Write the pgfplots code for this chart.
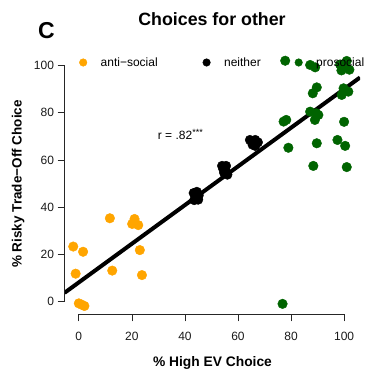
\documentclass[border=0pt]{standalone}
\usepackage{fontspec}
\setmainfont{Liberation Sans}
\usepackage{pgfplots}
\pgfplotsset{compat=1.18}
\definecolor{rorange}{HTML}{FFA500}
\definecolor{rgreen}{HTML}{006400}
\begin{document}
\begin{tikzpicture}
\path[use as bounding box] (0,0) rectangle (375bp,375bp);
\begin{axis}[
  at={(64.5bp,60.7bp)}, anchor=south west,
  scale only axis, width=295.5bp, height=260.4bp,
  xmin=-5.4, xmax=106, ymin=-5.43, ymax=105,
  axis x line*=bottom, axis y line*=left,
  axis line style={draw=none},
  clip mode=individual,
  tick align=outside, major tick length=7bp,
  tick style={black!85, line width=0.75bp},
  xtick={0,20,...,100}, ytick={0,20,...,100},
  /pgf/number format/assume math mode=true,
  ticklabel style={font=\fontsize{12bp}{14bp}\selectfont, text=black!90},
  xticklabel style={yshift=-7bp},
  yticklabel style={xshift=0bp},
  legend columns=3,
  legend style={draw=none, fill=none, inner sep=0pt, outer sep=0pt,
    nodes={inner sep=0pt, text depth=0pt},
    cells={anchor=west},
    /tikz/every odd column/.append style={column sep=13.5bp},
    /tikz/every even column/.append style={column sep=0bp},
    at={(0.0497,0.967)}, anchor=west,
    font=\fontsize{12bp}{14bp}\selectfont},
]
% regression line
\addplot[black, line width=4bp, forget plot] coordinates {(-5.4,3.67) (106,95.0)};
% anti-social
\addplot[only marks, mark=*, mark size=4.8bp, color=rorange, forget plot] coordinates {
(11.7,35.3) (21,35) (20.1,32.9) (22.4,32.4) (-2.1,23.3) (1.6,21.1) (23,21.8)
(-1.2,11.8) (12.6,13.1) (23.8,11.2) (0,-0.8) (1,-1.3) (2.1,-1.9)};
% neither
\addplot[only marks, mark=*, mark size=4.8bp, color=black, forget plot] coordinates {
(43.3,46) (44.5,46.5) (45.2,45) (44,44.5) (43.5,43) (45,43.2)
(54,57.5) (55.5,57.5) (54.5,56) (55.5,55) (56,53.8) (54.8,54.5)
(64.5,68.5) (65.5,67.5) (66.5,68.5) (67.5,67.5) (66.5,66) (65.5,66.5)};
% prosocial
\addplot[only marks, mark=*, mark size=4.8bp, color=rgreen, forget plot] coordinates {
(77.8,102.1) (87.2,100.3) (89.1,99.3) (98.5,100.5) (101,102) (102,98.3) (99,98) (100,100.5)
(89.7,90.8) (88.2,88.3) (99.8,90.4) (101.6,89) (99.1,87.6)
(78.2,77) (77.2,76.3) (87.2,80.5) (89.5,79.8) (90.3,79.1) (89,77) (100,76.2)
(79,65.2) (89.7,67.1) (97.5,68.5) (100.4,66) (88.4,57.5) (101,57) (76.8,-1)};
\addlegendimage{legend image code/.code={\fill[rorange] (0bp,0bp) circle (3.8bp);}}
\addlegendentry{\makebox[101.9bp][l]{anti−social}}
\addlegendimage{legend image code/.code={\fill[black] (0bp,0bp) circle (3.8bp);}}
\addlegendentry{\makebox[70.6bp][l]{neither}}
\addlegendimage{legend image code/.code={\fill[rgreen] (0bp,0bp) circle (3.8bp);}}
\addlegendentry{prosocial}
% axis lines (R style, tick to tick)
\draw[black!85, line width=0.75bp] (axis cs:0,-5.43) -- (axis cs:100,-5.43);
\draw[black!85, line width=0.75bp] (axis cs:-5.4,0) -- (axis cs:-5.4,100);
\end{axis}
\node[anchor=base west, inner sep=0pt, font=\fontsize{12bp}{14bp}\selectfont] at (157.7bp,235bp) {r = .82\raisebox{4.5bp}{\fontsize{9bp}{10bp}\selectfont ***}};
\node[anchor=base, font=\fontsize{17.8bp}{20bp}\selectfont\bfseries] at (212bp,349bp) {Choices for other};
\node[anchor=base west, inner sep=0pt, font=\fontsize{23bp}{26bp}\selectfont\bfseries] at (38bp,336bp) {C};
\node[anchor=base, font=\fontsize{13.8bp}{16bp}\selectfont\bfseries] at (212.5bp,9bp) {\% High EV Choice};
\node[anchor=base, rotate=90, font=\fontsize{13.5bp}{16bp}\selectfont\bfseries] at (21.7bp,191bp) {\% Risky Trade−Off Choice};
\end{tikzpicture}
\end{document}
